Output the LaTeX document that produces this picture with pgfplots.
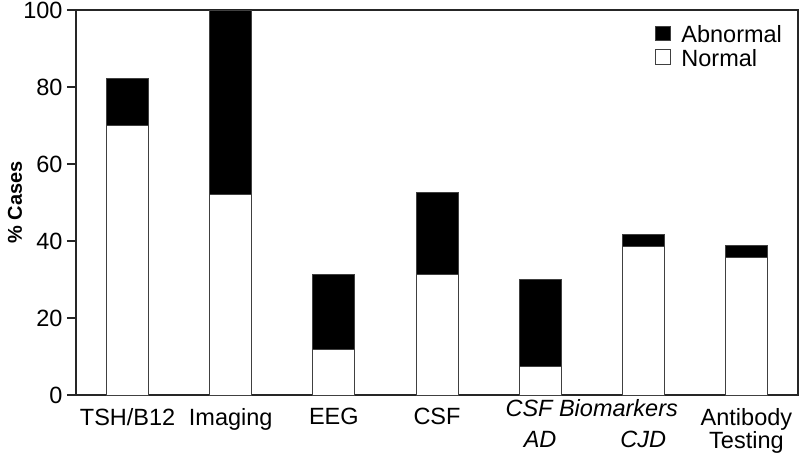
\documentclass[border=0pt]{standalone}
\usepackage{fontspec}
\setmainfont{Liberation Sans}
\usepackage{pgfplots}
\pgfplotsset{compat=1.18}

\begin{document}
\begin{tikzpicture}
\begin{axis}[
    scale only axis,
    width=722pt, height=385pt,
    xmin=-0.5, xmax=6.5,
    ymin=0, ymax=100,
    ybar stacked,
    bar width=42pt,
    xtick={0,1,2,3,4,5,6},
    xticklabels={TSH/B12, Imaging, EEG, CSF, {\phantom{A}\\\textit{AD}}, {\phantom{A}\\\textit{CJD}}, {Antibody\\Testing}},
    extra x ticks={4.5},
    extra x tick labels={\textit{CSF Biomarkers}},
    extra x tick style={major tick length=0pt, tick style={draw=none}},
    x tick label style={align=center, font=\fontsize{23.5}{23}\selectfont, yshift=-1pt},
    major x tick style={draw=none},
    ytick={0,20,...,100},
    ytick pos=left,
    tick align=outside,
    major tick length=9pt,
    y tick label style={font=\fontsize{23.5}{26}\selectfont, xshift=-1pt},
    /pgf/number format/assume math mode=true,
    ylabel={\textbf{\% Cases}},
    ylabel style={font=\fontsize{20}{22}\selectfont, at={(axis description cs:-0.0845,0.5)}, anchor=center},
    axis line style={black!85, line width=1.2pt},
    tick style={black!85, line width=1.2pt},
    legend style={
      at={(0.985,0.97)}, anchor=north east,
      draw=none, fill=none,
      font=\fontsize{23.5}{24}\selectfont,
      row sep=1pt,
      nodes={inner sep=2pt},
      cells={anchor=west},
      /tikz/column 1/.style={column sep=9pt},
    },
    legend image code/.code={\draw[#1, line width=0.8pt] (0pt,-5.5pt) rectangle (14.5pt,9pt);},
    reverse legend,
  ]
  % normal part
  \addplot[fill=white, draw=black!75, line width=0.9pt]
    coordinates {(0,70.0) (1,52.0) (2,11.9) (3,31.2) (4,7.3) (5,38.6) (6,35.6)};
  \addlegendentry{Normal}
  % abnormal part (stacked on top)
  \addplot[fill=black, draw=black!75, line width=0.9pt]
    coordinates {(0,12.1) (1,48.0) (2,19.5) (3,21.3) (4,22.6) (5,3.2) (6,3.2)};
  \addlegendentry{Abnormal}
\end{axis}
\pgfresetboundingbox
\path (current axis.south west) ++(-76pt,-63pt) rectangle ++(800pt,458pt);
\end{tikzpicture}
\end{document}
